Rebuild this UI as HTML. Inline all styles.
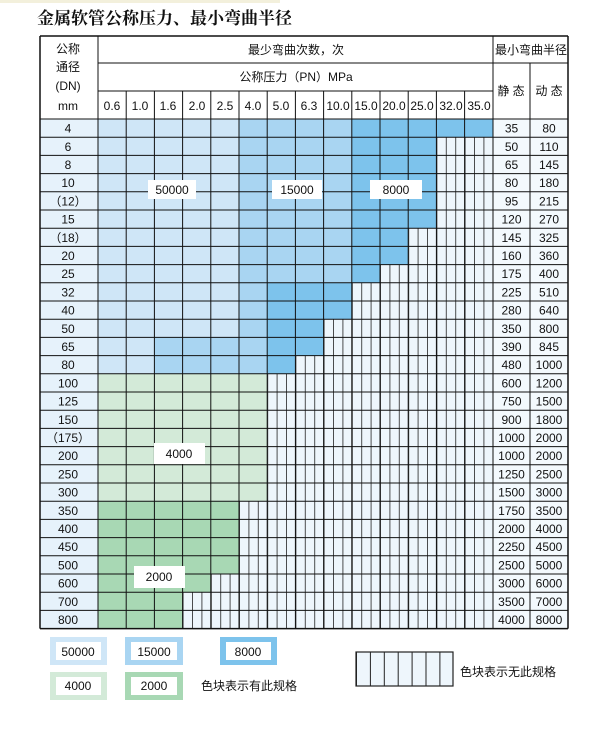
<!DOCTYPE html>
<html><head><meta charset="utf-8">
<style>
html,body{margin:0;padding:0;background:#fff;}
svg{display:block;font-family:"Liberation Sans","Noto Sans CJK SC",sans-serif;}
</style></head>
<body>
<svg id="s" width="600" height="743" viewBox="0 0 600 743" xmlns="http://www.w3.org/2000/svg">
<defs>
<pattern id="hatch" x="98" y="0" width="9.4" height="10" patternUnits="userSpaceOnUse">
<rect width="9.4" height="10" fill="#eef6fc"/>
<line x1="0.5" y1="0" x2="0.5" y2="10" stroke="#222" stroke-width="0.8"/>
</pattern>
<pattern id="hatch2" x="356" y="0" width="13.9" height="10" patternUnits="userSpaceOnUse">
<rect width="13.9" height="10" fill="#eef6fc"/>
<line x1="0.5" y1="0" x2="0.5" y2="10" stroke="#222" stroke-width="1"/>
</pattern>
</defs>
<rect x="0" y="0" width="280" height="3" fill="#f3f0dc"/>
<g id="grid"></g>
<g id="lines"></g>
<g font-size="12" fill="#111" text-anchor="middle">
<text x="68" y="53">公称</text>
<text x="68" y="71">通径</text>
<text x="68" y="90">(DN)</text>
<text x="68" y="110">mm</text>
<text x="296" y="54">最少弯曲次数，次</text>
<text x="296" y="81">公称压力（PN）MPa</text>
<text x="531" y="54">最小弯曲半径</text>
<text x="511" y="95">静 态</text>
<text x="549" y="95">动 态</text>
<g id="ph"><text x="112" y="110">0.6</text><text x="140" y="110">1.0</text><text x="168" y="110">1.6</text><text x="197" y="110">2.0</text><text x="225" y="110">2.5</text><text x="253" y="110">4.0</text><text x="281" y="110">5.0</text><text x="309" y="110">6.3</text><text x="338" y="110">10.0</text><text x="366" y="110">15.0</text><text x="394" y="110">20.0</text><text x="422" y="110">25.0</text><text x="451" y="110">32.0</text><text x="479" y="110">35.0</text></g>
<g id="rl"></g>
</g>
<text x="37" y="24" font-size="17" font-weight="bold" font-family="'Noto Serif CJK SC',serif" fill="#111">金属软管公称压力、最小弯曲半径</text>
<g font-size="12" fill="#111" text-anchor="middle" id="lab">
<rect x="148" y="180" width="48" height="19" fill="#fff"/><text x="172" y="194">50000</text>
<rect x="272" y="180" width="50" height="19" fill="#fff"/><text x="297" y="194">15000</text>
<rect x="370" y="180" width="52" height="19" fill="#fff"/><text x="396" y="194">8000</text>
<rect x="154" y="443" width="51" height="21" fill="#fff"/><text x="179" y="458">4000</text>
<rect x="134" y="566" width="51" height="22" fill="#fff"/><text x="159" y="581">2000</text>
<rect x="50" y="637" width="57" height="28" fill="#cfe6f7"/><rect x="56" y="642" width="45" height="18" fill="#fff"/><text x="78" y="656">50000</text>
<rect x="125" y="637" width="58" height="28" fill="#a9d5f2"/><rect x="131" y="642" width="46" height="18" fill="#fff"/><text x="154" y="656">15000</text>
<rect x="220" y="637" width="57" height="28" fill="#7dc3ec"/><rect x="226" y="642" width="45" height="18" fill="#fff"/><text x="248" y="656">8000</text>
<rect x="50" y="672" width="57" height="28" fill="#d3ead8"/><rect x="56" y="677" width="45" height="18" fill="#fff"/><text x="78" y="690">4000</text>
<rect x="125" y="672" width="58" height="28" fill="#a8d8b4"/><rect x="131" y="677" width="46" height="18" fill="#fff"/><text x="154" y="690">2000</text>
<text x="249" y="690">色块表示有此规格</text>
<rect x="356" y="652" width="97" height="34" fill="url(#hatch2)" stroke="#222" stroke-width="1.2"/>
<text x="508" y="676">色块表示无此规格</text>
</g>
</svg>
<script>
var NS="http://www.w3.org/2000/svg";
function el(p,t,a){var e=document.createElementNS(NS,t);for(var k in a)e.setAttribute(k,a[k]);p.appendChild(e);return e;}
var g=document.getElementById('grid'),L=document.getElementById('lines'),rl=document.getElementById('rl');
var X0=40,X1=98,CW=28.2,XR=493,XM=530,XE=568,Y0=36,Y1=63,Y2=91,YH=119,RH=18.2;
var rows=["4","6","8","10","（12）","15","（18）","20","25","32","40","50","65","80","100","125","150","（175）","200","250","300","350","400","450","500","600","700","800"];
var st=[35,50,65,80,95,120,145,160,175,225,280,350,390,480,600,750,900,1000,1000,1250,1500,1750,2000,2250,2500,3000,3500,4000];
var dy=[80,110,145,180,215,270,325,360,400,510,640,800,845,1000,1200,1500,1800,2000,2000,2500,3000,3500,4000,4500,5000,6000,7000,8000];
var ext=[13,11,11,11,11,11,10,10,9,8,8,7,7,6,5,5,5,5,5,5,5,4,4,4,4,3,2,2];
var BL="#cfe6f7",BM="#a9d5f2",BD="#7dc3ec",G1="#d3ead8",G2="#a8d8b4";
var YB=YH+rows.length*RH;
el(g,'rect',{x:X0,y:YH,width:X1-X0,height:YB-YH,fill:"#e6f2fb"});
el(g,'rect',{x:XR,y:YH,width:XE-XR,height:YB-YH,fill:"#f3f9fd"});
el(g,'rect',{x:X1,y:YH,width:XR-X1,height:YB-YH,fill:"url(#hatch)"});
for(var i=0;i<rows.length;i++){
 var y=YH+i*RH;
 for(var c=0;c<=ext[i];c++){
  var col;
  if(i>=21)col=G2;else if(i>=14)col=G1;
  else{col=c<=4?BL:(c<=8?BM:BD);
   if(i<5&&c>=9)col=BD;
   if(i>=9&&c>=6)col=BD;
   if(i>=12&&c>=2&&c<=5)col=BM;}
  el(g,'rect',{x:X1+c*CW,y:y,width:CW,height:RH,fill:col});
 }
 var ty=y+RH/2+4.5;
 var t=el(rl,'text',{x:68,y:ty});t.textContent=rows[i];
 t=el(rl,'text',{x:511.5,y:ty});t.textContent=st[i];
 t=el(rl,'text',{x:549,y:ty});t.textContent=dy[i];
}
var S={stroke:"#111","stroke-width":1};
function ln(a,b,c,d,w){el(L,'line',{x1:a,y1:b,x2:c,y2:d,stroke:"#111","stroke-width":w||1});}
ln(X0,Y0,XE,Y0,1.5);ln(X0,YB,XE,YB,1.5);ln(X0,Y0,X0,YB,1.5);ln(XE,Y0,XE,YB,1.5);
ln(X1,Y1,XR,Y1);ln(X1,Y2,XR,Y2);ln(XR,Y1,XE,Y1);ln(X0,YH,XE,YH);
ln(X1,Y0,X1,YB);ln(XR,Y0,XR,YB);ln(XM,Y1,XM,YB);
for(var c=1;c<14;c++)ln(X1+c*CW,Y2,X1+c*CW,YB);
for(var i=1;i<rows.length;i++){var y=YH+i*RH;ln(X0,y,XE,y);}
</script>
</body></html>
